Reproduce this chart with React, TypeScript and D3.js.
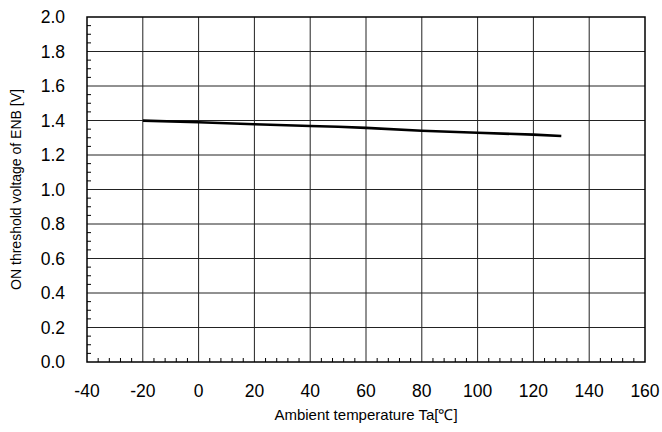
import { useMemo } from "react";
import * as d3 from "d3";

const WIDTH = 662;
const HEIGHT = 432;
const MARGIN = { top: 17, right: 17, bottom: 70, left: 87 };

const X_TICKS = [-40, -20, 0, 20, 40, 60, 80, 100, 120, 140, 160];
const Y_TICKS = [0, 0.2, 0.4, 0.6, 0.8, 1.0, 1.2, 1.4, 1.6, 1.8, 2.0];

const temps = [-20, 0, 20, 40, 50, 60, 80, 100, 120, 130];
const volts = [1.399, 1.39, 1.378, 1.368, 1.364, 1.357, 1.341, 1.329, 1.318, 1.31];

const FONT = "'Liberation Sans', Arial, sans-serif";

export default function App() {
  const boundsWidth = WIDTH - MARGIN.left - MARGIN.right;
  const boundsHeight = HEIGHT - MARGIN.top - MARGIN.bottom;

  const xScale = useMemo(
    () => d3.scaleLinear().domain([-40, 160]).range([0, boundsWidth]),
    [boundsWidth]
  );
  const yScale = useMemo(
    () => d3.scaleLinear().domain([0, 2]).range([boundsHeight, 0]),
    [boundsHeight]
  );

  const xMinor = d3.range(-40, 160.01, 4).filter((v) => Math.round(v) % 20 !== 0);
  const yMinor = d3.range(0, 2.001, 0.05).filter((v) => Math.abs(v * 5 - Math.round(v * 5)) > 1e-6);

  const line = d3
    .line<number>()
    .x((_, i) => xScale(temps[i]))
    .y((d) => yScale(d));

  return (
    <div style={{ position: "absolute", left: 0, top: 0 }}>
      <svg width={WIDTH} height={HEIGHT} style={{ display: "block", background: "#fff" }}>
        <g transform={`translate(${MARGIN.left},${MARGIN.top})`}>
          {X_TICKS.slice(1, -1).map((t) => (
            <line key={"gx" + t} x1={xScale(t)} x2={xScale(t)} y1={0} y2={boundsHeight} stroke="#222" strokeWidth={1} />
          ))}
          {Y_TICKS.slice(1, -1).map((t) => (
            <line key={"gy" + t} x1={0} x2={boundsWidth} y1={yScale(t)} y2={yScale(t)} stroke="#222" strokeWidth={1} />
          ))}
          {xMinor.map((t) => (
            <line key={"mx" + t} x1={xScale(t)} x2={xScale(t)} y1={boundsHeight} y2={boundsHeight - 4} stroke="#000" strokeWidth={1} />
          ))}
          {yMinor.map((t) => (
            <line key={"my" + t} x1={0} x2={4} y1={yScale(t)} y2={yScale(t)} stroke="#000" strokeWidth={1} />
          ))}
          <rect x={0} y={0} width={boundsWidth} height={boundsHeight} fill="none" stroke="#000" strokeWidth={1.5} />
          <path d={line(volts) ?? ""} fill="none" stroke="#000" strokeWidth={2.6} />
          {X_TICKS.map((t) => (
            <text key={"tx" + t} x={xScale(t)} y={boundsHeight + 35} textAnchor="middle" fontFamily={FONT} fontSize={17.5} fill="#000">
              {t}
            </text>
          ))}
          {Y_TICKS.map((t) => (
            <text key={"ty" + t} x={-22} y={yScale(t)} dy="0.36em" textAnchor="end" fontFamily={FONT} fontSize={17.5} fill="#000">
              {t.toFixed(1)}
            </text>
          ))}
          <text x={boundsWidth / 2} y={boundsHeight + 58} textAnchor="middle" fontFamily={FONT} fontSize={15} fill="#000">
            Ambient temperature Ta[℃]
          </text>
          <text
            transform={`translate(${-66},${boundsHeight / 2}) rotate(-90)`}
            textAnchor="middle"
            fontFamily={FONT}
            fontSize={14}
            fill="#000"
          >
            ON threshold voltage of ENB [V]
          </text>
        </g>
      </svg>
    </div>
  );
}
